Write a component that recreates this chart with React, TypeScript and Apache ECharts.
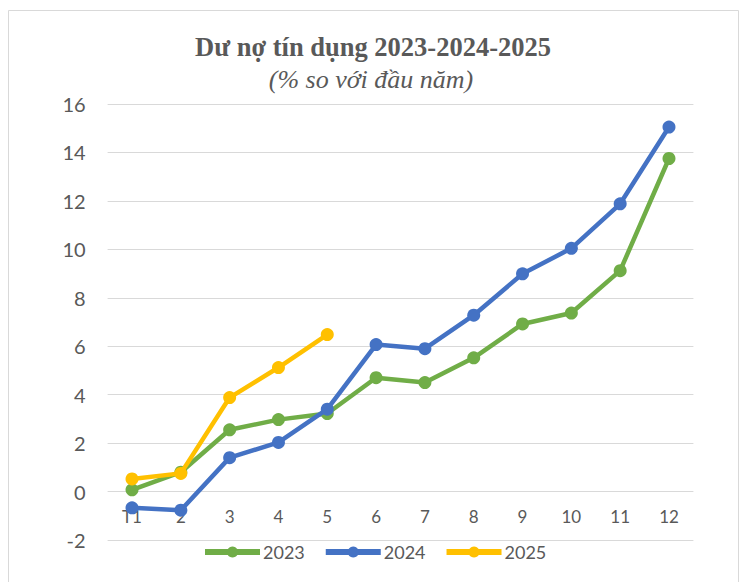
import React, { useEffect, useRef } from "react";
import * as echarts from "echarts";

const months = ["T1", "2", "3", "4", "5", "6", "7", "8", "9", "10", "11", "12"];
const s2023 = [0.07, 0.8, 2.55, 2.97, 3.22, 4.7, 4.5, 5.52, 6.92, 7.37, 9.12, 13.75];
const s2024 = [-0.67, -0.77, 1.4, 2.03, 3.4, 6.07, 5.9, 7.28, 8.99, 10.04, 11.88, 15.05];
const s2025 = [0.52, 0.75, 3.88, 5.12, 6.48];
const yTicks = { min: -2, max: 16, interval: 2 };

const FONT = "Lato, 'Noto Sans', sans-serif";

export default function App() {
  const ref = useRef<HTMLDivElement>(null);
  useEffect(() => {
    if (!ref.current) return;
    const chart = echarts.init(ref.current, null, { renderer: "svg" });
    const mk = (name: string, data: number[], color: string) => ({
      name,
      type: "line",
      data,
      symbol: "circle",
      symbolSize: 13,
      lineStyle: { color, width: 4.5 },
      itemStyle: { color },
      z: name === "2025" ? 3 : name === "2024" ? 2 : 1,
    });
    chart.setOption({
      animation: false,
      backgroundColor: "#ffffff",
      graphic: [
        {
          type: "rect",
          shape: { x: 8.5, y: 10.5, width: 730, height: 600 },
          style: { fill: "none", stroke: "#d9d9d9", lineWidth: 1 },
          z: -1,
        },
        {
          type: "text",
          x: 373,
          y: 47,
          style: {
            text: "Dư nợ tín dụng 2023-2024-2025",
            font: "bold 26.5px 'Liberation Serif', 'Times New Roman', serif",
            fill: "#595959",
            textAlign: "center",
            textVerticalAlign: "middle",
          },
        },
        {
          type: "text",
          x: 371,
          y: 79,
          style: {
            text: "(% so với đầu năm)",
            font: "italic 26px 'Liberation Serif', 'Times New Roman', serif",
            fill: "#595959",
            textAlign: "center",
            textVerticalAlign: "middle",
          },
        },
      ],
      legend: {
        left: 197,
        top: 538,
        itemWidth: 55,
        itemHeight: 14,
        itemGap: 18,
        lineStyle: { width: 6 },
        textStyle: { fontFamily: FONT, fontSize: 18, color: "#595959", padding: [0, 0, 0, -2] },
        data: ["2023", "2024", "2025"],
      },
      grid: { left: 107.6, right: 50.6, top: 104, bottom: 42, containLabel: false },
      xAxis: {
        type: "category",
        data: months,
        boundaryGap: true,
        offset: -48.4,
        axisLine: { show: false, onZero: false },
        axisTick: { show: false },
        axisLabel: { fontFamily: FONT, fontSize: 17, color: "#595959", margin: 16 },
      },
      yAxis: {
        type: "value",
        min: yTicks.min,
        max: yTicks.max,
        interval: yTicks.interval,
        axisLine: { show: false },
        axisTick: { show: false },
        axisLabel: { fontFamily: FONT, fontSize: 20, color: "#595959", margin: 22 },
        splitLine: { lineStyle: { color: "#d9d9d9", width: 1 } },
      },
      series: [
        mk("2023", s2023, "#70AD47"),
        mk("2024", s2024, "#4472C4"),
        mk("2025", s2025, "#FFC000"),
      ],
    });
    return () => chart.dispose();
  }, []);
  return (
    <div
      ref={ref}
      style={{ position: "fixed", left: 0, top: 0, width: 744, height: 582 }}
    />
  );
}
